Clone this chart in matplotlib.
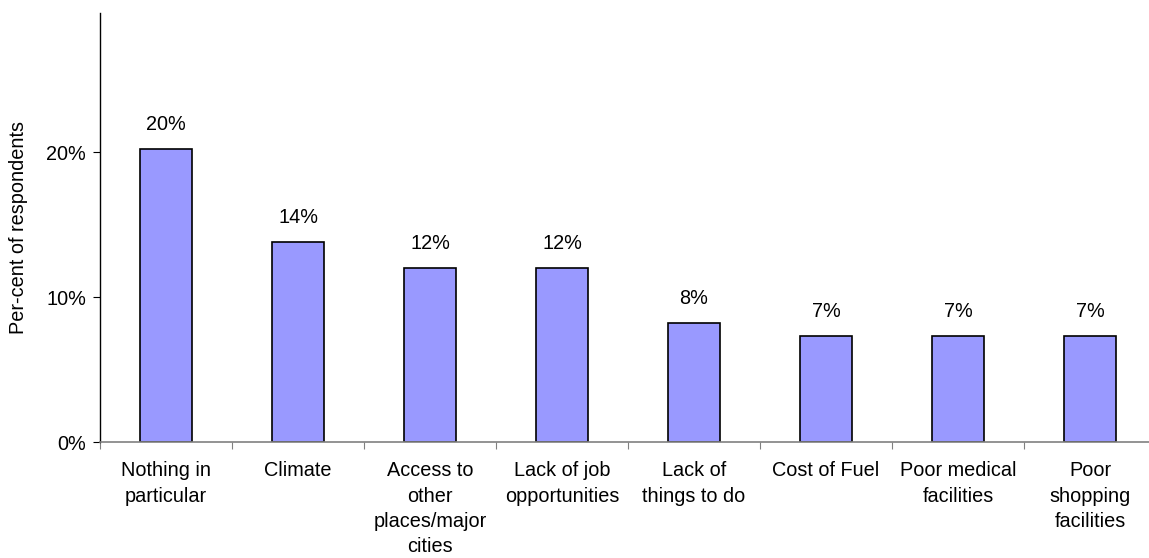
import matplotlib
matplotlib.use('Agg')
import matplotlib.pyplot as plt
import numpy as np

plt.rcParams['font.family'] = 'Liberation Sans'
plt.rcParams['font.size'] = 14.3

categories = ["Nothing in\nparticular", "Climate", "Access to\nother\nplaces/major\ncities",
              "Lack of job\nopportunities", "Lack of\nthings to do", "Cost of Fuel",
              "Poor medical\nfacilities", "Poor\nshopping\nfacilities"]
percent = [20.2, 13.8, 12.0, 12.0, 8.2, 7.3, 7.3, 7.3]

fig = plt.figure(figsize=(11.49, 5.58), dpi=100)
# axes run a little past the right edge of the figure
ax = fig.add_axes([100/1149, 116/558, 1056/1149, 429/558])

x = np.arange(len(percent))
bars = ax.bar(x, percent, width=0.39, color='#9999FF', edgecolor='black', linewidth=1.2)

for xi, v in zip(x, percent):
    ax.annotate("%d%%" % round(v), (xi, v), xytext=(0, 11), textcoords='offset points',
                ha='center', va='bottom')

ax.set_xlim(-0.5, len(percent) - 0.5)
ax.set_ylim(0, 29.6)
ax.set_yticks([0, 10, 20])
ax.set_yticklabels(["0%", "10%", "20%"])
ax.set_ylabel("Per-cent of respondents", labelpad=13)

# category labels sit between the boundary ticks
ax.set_xticks(np.arange(len(percent) + 1) - 0.5)
ax.set_xticklabels([])
ax.set_xticks(x, minor=True)
ax.set_xticklabels(categories, minor=True, linespacing=1.42, va='top')
ax.tick_params(axis='x', which='minor', length=0, pad=14)
ax.tick_params(axis='x', which='major', length=5, color='#808080', direction='out')
ax.tick_params(axis='y', length=5, direction='out', pad=5)

ax.spines['top'].set_visible(False)
ax.spines['right'].set_visible(False)
ax.spines['bottom'].set_color('#808080')
ax.spines['bottom'].set_linewidth(1.2)
ax.spines['left'].set_linewidth(1.0)

fig.savefig('out.png', dpi=100)
